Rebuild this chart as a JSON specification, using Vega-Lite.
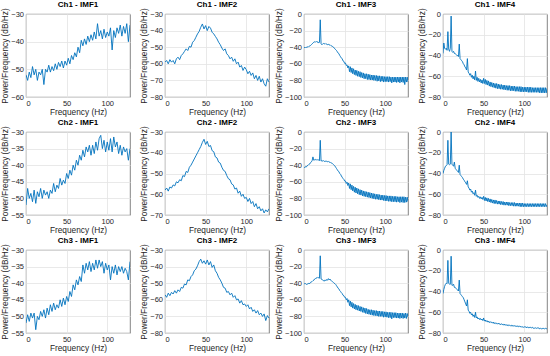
{
"$schema":"https://vega.github.io/schema/vega-lite/v6.json",
"padding":{"left":0,"top":0,"right":0,"bottom":0},
"columns":4,
"spacing":{"row":35,"column":35},
"bounds":"flush",
"datasets":{
"a11":[{"f":0,"p":-52},{"f":2,"p":-54},{"f":4,"p":-51},{"f":6,"p":-53},{"f":8,"p":-49},{"f":10,"p":-52},{"f":12,"p":-50},{"f":14,"p":-54},{"f":16,"p":-51},{"f":18,"p":-52},{"f":20,"p":-50},{"f":22,"p":-55.5},{"f":24,"p":-50},{"f":26,"p":-51},{"f":28,"p":-48.5},{"f":30,"p":-51},{"f":32,"p":-49},{"f":34,"p":-50.5},{"f":36,"p":-48},{"f":38,"p":-50},{"f":40,"p":-47.5},{"f":42,"p":-49},{"f":44,"p":-47},{"f":46,"p":-49.5},{"f":48,"p":-47},{"f":50,"p":-48.5},{"f":52,"p":-46},{"f":54,"p":-48},{"f":56,"p":-45},{"f":58,"p":-46.5},{"f":60,"p":-44},{"f":62,"p":-45.5},{"f":64,"p":-42},{"f":66,"p":-44},{"f":68,"p":-39.5},{"f":70,"p":-41.5},{"f":72,"p":-39},{"f":74,"p":-41},{"f":76,"p":-38},{"f":78,"p":-40},{"f":80,"p":-37.5},{"f":82,"p":-39.5},{"f":84,"p":-36.5},{"f":86,"p":-39},{"f":88,"p":-33.5},{"f":90,"p":-38},{"f":92,"p":-36},{"f":94,"p":-39},{"f":96,"p":-35.5},{"f":98,"p":-38.5},{"f":100,"p":-36.5},{"f":102,"p":-38},{"f":104,"p":-35},{"f":106,"p":-43},{"f":108,"p":-36},{"f":110,"p":-38.5},{"f":112,"p":-35},{"f":114,"p":-37},{"f":116,"p":-34},{"f":118,"p":-38},{"f":120,"p":-34.5},{"f":122,"p":-37},{"f":124,"p":-33.5},{"f":126,"p":-40},{"f":128,"p":-34}],
"a12":[{"f":0,"p":-59},{"f":2,"p":-58},{"f":4,"p":-60},{"f":6,"p":-57.5},{"f":8,"p":-59},{"f":10,"p":-58},{"f":12,"p":-60},{"f":14,"p":-57},{"f":16,"p":-56},{"f":18,"p":-57.5},{"f":20,"p":-55},{"f":22,"p":-54},{"f":24,"p":-52.5},{"f":26,"p":-51},{"f":28,"p":-52},{"f":30,"p":-49.5},{"f":32,"p":-50},{"f":34,"p":-47},{"f":36,"p":-46},{"f":38,"p":-44},{"f":40,"p":-42},{"f":42,"p":-40.5},{"f":44,"p":-38},{"f":46,"p":-36},{"f":48,"p":-39},{"f":50,"p":-37},{"f":52,"p":-40},{"f":54,"p":-37.5},{"f":56,"p":-38.5},{"f":58,"p":-41},{"f":60,"p":-42},{"f":62,"p":-43.5},{"f":64,"p":-45},{"f":66,"p":-47},{"f":68,"p":-48.5},{"f":70,"p":-50.5},{"f":72,"p":-52},{"f":74,"p":-51},{"f":76,"p":-54},{"f":78,"p":-55},{"f":80,"p":-57},{"f":82,"p":-56},{"f":84,"p":-58.5},{"f":86,"p":-57},{"f":88,"p":-60},{"f":90,"p":-59},{"f":92,"p":-62},{"f":94,"p":-61},{"f":96,"p":-64},{"f":98,"p":-62},{"f":100,"p":-63.5},{"f":102,"p":-66},{"f":104,"p":-64.5},{"f":106,"p":-67},{"f":108,"p":-65.5},{"f":110,"p":-69},{"f":112,"p":-67},{"f":114,"p":-70},{"f":116,"p":-67.5},{"f":118,"p":-71},{"f":120,"p":-69},{"f":122,"p":-72},{"f":124,"p":-73.5},{"f":126,"p":-69},{"f":128,"p":-71}],
"a13":[{"f":0,"p":-41},{"f":1,"p":-40},{"f":2,"p":-41},{"f":3,"p":-40},{"f":4,"p":-39.5},{"f":5,"p":-40},{"f":6,"p":-39},{"f":7,"p":-38.5},{"f":8,"p":-38},{"f":9,"p":-37},{"f":10,"p":-36},{"f":11,"p":-35},{"f":12,"p":-34},{"f":13,"p":-33.5},{"f":14,"p":-34},{"f":15,"p":-33},{"f":16,"p":-34},{"f":17,"p":-33.5},{"f":18,"p":-35},{"f":19,"p":-34},{"f":20,"p":-7},{"f":21,"p":-36},{"f":22,"p":-37},{"f":23,"p":-36},{"f":24,"p":-35.5},{"f":25,"p":-36},{"f":26,"p":-35.5},{"f":27,"p":-36.5},{"f":28,"p":-36},{"f":29,"p":-37},{"f":30,"p":-36.5},{"f":31,"p":-37.5},{"f":32,"p":-37},{"f":33,"p":-38},{"f":34,"p":-38.5},{"f":35,"p":-39},{"f":36,"p":-40},{"f":37,"p":-40.5},{"f":38,"p":-42},{"f":39,"p":-43},{"f":40,"p":-44},{"f":41,"p":-45.5},{"f":42,"p":-47},{"f":43,"p":-48},{"f":44,"p":-50},{"f":45,"p":-51.5},{"f":46,"p":-53},{"f":47,"p":-54},{"f":48,"p":-56.5},{"f":49,"p":-57},{"f":50,"p":-59.5},{"f":51,"p":-59},{"f":52,"p":-62},{"f":53,"p":-61.5},{"f":54,"p":-65},{"f":55,"p":-62.5},{"f":56,"p":-69.5},{"f":57,"p":-63.5},{"f":58,"p":-70.5},{"f":59,"p":-65},{"f":60,"p":-72},{"f":61,"p":-66},{"f":62,"p":-73},{"f":63,"p":-67.5},{"f":64,"p":-74},{"f":65,"p":-68},{"f":66,"p":-75},{"f":67,"p":-69},{"f":68,"p":-75.5},{"f":69,"p":-69.5},{"f":70,"p":-76.5},{"f":71,"p":-70.5},{"f":72,"p":-77},{"f":73,"p":-71},{"f":74,"p":-78},{"f":75,"p":-72},{"f":76,"p":-78},{"f":77,"p":-72},{"f":78,"p":-79},{"f":79,"p":-72.5},{"f":80,"p":-79},{"f":81,"p":-73},{"f":82,"p":-79.5},{"f":83,"p":-73.5},{"f":84,"p":-79.5},{"f":85,"p":-73.5},{"f":86,"p":-80},{"f":87,"p":-74},{"f":88,"p":-80},{"f":89,"p":-74},{"f":90,"p":-81},{"f":91,"p":-74.5},{"f":92,"p":-80.5},{"f":93,"p":-74.5},{"f":94,"p":-81.5},{"f":95,"p":-75},{"f":96,"p":-81},{"f":97,"p":-75},{"f":98,"p":-82},{"f":99,"p":-75.5},{"f":100,"p":-81.5},{"f":101,"p":-75.5},{"f":102,"p":-81.5},{"f":103,"p":-75.5},{"f":104,"p":-82},{"f":105,"p":-75.5},{"f":106,"p":-81.5},{"f":107,"p":-76},{"f":108,"p":-83},{"f":109,"p":-76},{"f":110,"p":-82},{"f":111,"p":-76},{"f":112,"p":-82},{"f":113,"p":-76},{"f":114,"p":-82.5},{"f":115,"p":-76},{"f":116,"p":-82},{"f":117,"p":-76},{"f":118,"p":-83},{"f":119,"p":-76},{"f":120,"p":-82},{"f":121,"p":-76},{"f":122,"p":-82.5},{"f":123,"p":-76},{"f":124,"p":-85},{"f":125,"p":-76},{"f":126,"p":-82},{"f":127,"p":-76},{"f":128,"p":-82}],
"a14":[{"f":0,"p":-38},{"f":1,"p":-28},{"f":2,"p":-33},{"f":3,"p":-34},{"f":4,"p":-33},{"f":5,"p":-35},{"f":6,"p":-17},{"f":7,"p":-34},{"f":8,"p":-36},{"f":9,"p":-33},{"f":10,"p":-2},{"f":11,"p":-36},{"f":12,"p":-37},{"f":13,"p":-36},{"f":14,"p":-38},{"f":15,"p":-38},{"f":16,"p":-39},{"f":17,"p":-40},{"f":18,"p":-40},{"f":19,"p":-41},{"f":20,"p":-29},{"f":21,"p":-43},{"f":22,"p":-44},{"f":23,"p":-45},{"f":24,"p":-46},{"f":25,"p":-48},{"f":26,"p":-49},{"f":27,"p":-51},{"f":28,"p":-52},{"f":29,"p":-54},{"f":30,"p":-43},{"f":31,"p":-56},{"f":32,"p":-57},{"f":33,"p":-59},{"f":34,"p":-57.5},{"f":35,"p":-61},{"f":36,"p":-59},{"f":37,"p":-62.5},{"f":38,"p":-60},{"f":39,"p":-63.5},{"f":40,"p":-55},{"f":41,"p":-64},{"f":42,"p":-61},{"f":43,"p":-65},{"f":44,"p":-62},{"f":45,"p":-65.5},{"f":46,"p":-63},{"f":47,"p":-66.5},{"f":48,"p":-63.5},{"f":49,"p":-67},{"f":50,"p":-62},{"f":51,"p":-67},{"f":52,"p":-63},{"f":53,"p":-68},{"f":54,"p":-64},{"f":55,"p":-68.5},{"f":56,"p":-64.5},{"f":57,"p":-69.5},{"f":58,"p":-65.5},{"f":59,"p":-70},{"f":60,"p":-66},{"f":61,"p":-70.5},{"f":62,"p":-66.5},{"f":63,"p":-71},{"f":64,"p":-67},{"f":65,"p":-71.5},{"f":66,"p":-67},{"f":67,"p":-72},{"f":68,"p":-67.5},{"f":69,"p":-72},{"f":70,"p":-68},{"f":71,"p":-72.5},{"f":72,"p":-68},{"f":73,"p":-72.5},{"f":74,"p":-68.5},{"f":75,"p":-73},{"f":76,"p":-68.5},{"f":77,"p":-73},{"f":78,"p":-69},{"f":79,"p":-73.5},{"f":80,"p":-69},{"f":81,"p":-73.5},{"f":82,"p":-69},{"f":83,"p":-74},{"f":84,"p":-69.5},{"f":85,"p":-74},{"f":86,"p":-69.5},{"f":87,"p":-74},{"f":88,"p":-69.5},{"f":89,"p":-74.5},{"f":90,"p":-70},{"f":91,"p":-74.5},{"f":92,"p":-70},{"f":93,"p":-74.5},{"f":94,"p":-70},{"f":95,"p":-75},{"f":96,"p":-70},{"f":97,"p":-75},{"f":98,"p":-70.5},{"f":99,"p":-75},{"f":100,"p":-70.5},{"f":101,"p":-75},{"f":102,"p":-70.5},{"f":103,"p":-75},{"f":104,"p":-70.5},{"f":105,"p":-75.5},{"f":106,"p":-70.5},{"f":107,"p":-75.5},{"f":108,"p":-70.5},{"f":109,"p":-75.5},{"f":110,"p":-71},{"f":111,"p":-75.5},{"f":112,"p":-71},{"f":113,"p":-75.5},{"f":114,"p":-71},{"f":115,"p":-75.5},{"f":116,"p":-71},{"f":117,"p":-75.5},{"f":118,"p":-71},{"f":119,"p":-76},{"f":120,"p":-71},{"f":121,"p":-76},{"f":122,"p":-71},{"f":123,"p":-76},{"f":124,"p":-71},{"f":125,"p":-76},{"f":126,"p":-71},{"f":127,"p":-76},{"f":128,"p":-71.5}],
"a21":[{"f":0,"p":-52},{"f":2,"p":-47},{"f":4,"p":-50},{"f":6,"p":-48.5},{"f":8,"p":-51},{"f":10,"p":-47.5},{"f":12,"p":-51.5},{"f":14,"p":-48},{"f":16,"p":-49.5},{"f":18,"p":-47},{"f":20,"p":-50},{"f":22,"p":-47.5},{"f":24,"p":-49},{"f":26,"p":-48},{"f":28,"p":-50},{"f":30,"p":-47.5},{"f":32,"p":-48.5},{"f":34,"p":-45.5},{"f":36,"p":-48},{"f":38,"p":-46},{"f":40,"p":-47},{"f":42,"p":-44},{"f":44,"p":-46},{"f":46,"p":-44.5},{"f":48,"p":-45.5},{"f":50,"p":-42.5},{"f":52,"p":-44},{"f":54,"p":-41.5},{"f":56,"p":-43},{"f":58,"p":-40},{"f":60,"p":-41.5},{"f":62,"p":-38.5},{"f":64,"p":-40},{"f":66,"p":-37},{"f":68,"p":-38.5},{"f":70,"p":-35.5},{"f":72,"p":-37.5},{"f":74,"p":-34.5},{"f":76,"p":-36},{"f":78,"p":-34},{"f":80,"p":-37},{"f":82,"p":-34},{"f":84,"p":-36.5},{"f":86,"p":-33},{"f":88,"p":-35.5},{"f":90,"p":-32},{"f":92,"p":-31},{"f":94,"p":-35},{"f":96,"p":-32.5},{"f":98,"p":-36},{"f":100,"p":-33},{"f":102,"p":-35.5},{"f":104,"p":-32},{"f":106,"p":-36},{"f":108,"p":-31.5},{"f":110,"p":-34.5},{"f":112,"p":-33},{"f":114,"p":-36.5},{"f":116,"p":-34},{"f":118,"p":-37},{"f":120,"p":-34.5},{"f":122,"p":-36},{"f":124,"p":-35},{"f":126,"p":-38.5},{"f":128,"p":-35}],
"a22":[{"f":0,"p":-58},{"f":2,"p":-57},{"f":4,"p":-58.5},{"f":6,"p":-56.5},{"f":8,"p":-57},{"f":10,"p":-55.5},{"f":12,"p":-56},{"f":14,"p":-54},{"f":16,"p":-54.5},{"f":18,"p":-53},{"f":20,"p":-53.5},{"f":22,"p":-51},{"f":24,"p":-51.5},{"f":26,"p":-49},{"f":28,"p":-49.5},{"f":30,"p":-47},{"f":32,"p":-46},{"f":34,"p":-44.5},{"f":36,"p":-43},{"f":38,"p":-41.5},{"f":40,"p":-40},{"f":42,"p":-38.5},{"f":44,"p":-37},{"f":46,"p":-35},{"f":48,"p":-33.5},{"f":50,"p":-36},{"f":52,"p":-34.5},{"f":54,"p":-37},{"f":56,"p":-36.5},{"f":58,"p":-39},{"f":60,"p":-39.5},{"f":62,"p":-42},{"f":64,"p":-42.5},{"f":66,"p":-44.5},{"f":68,"p":-45},{"f":70,"p":-47},{"f":72,"p":-48.5},{"f":74,"p":-49},{"f":76,"p":-51},{"f":78,"p":-52.5},{"f":80,"p":-53},{"f":82,"p":-55},{"f":84,"p":-55.5},{"f":86,"p":-57.5},{"f":88,"p":-57},{"f":90,"p":-59.5},{"f":92,"p":-58.5},{"f":94,"p":-61},{"f":96,"p":-60},{"f":98,"p":-62},{"f":100,"p":-61.5},{"f":102,"p":-63.5},{"f":104,"p":-62},{"f":106,"p":-64.5},{"f":108,"p":-63.5},{"f":110,"p":-66},{"f":112,"p":-64.5},{"f":114,"p":-67},{"f":116,"p":-66},{"f":118,"p":-68},{"f":120,"p":-67},{"f":122,"p":-69},{"f":124,"p":-67.5},{"f":126,"p":-68.5},{"f":128,"p":-67}],
"a23":[{"f":0,"p":-42},{"f":1,"p":-43},{"f":2,"p":-41.5},{"f":3,"p":-42},{"f":4,"p":-40.5},{"f":5,"p":-40},{"f":6,"p":-39},{"f":7,"p":-38.5},{"f":8,"p":-37},{"f":9,"p":-36},{"f":10,"p":-34.5},{"f":11,"p":-30},{"f":12,"p":-34},{"f":13,"p":-33.5},{"f":14,"p":-33},{"f":15,"p":-34},{"f":16,"p":-33},{"f":17,"p":-34},{"f":18,"p":-33.5},{"f":19,"p":-34.5},{"f":20,"p":-10},{"f":21,"p":-35},{"f":22,"p":-34.5},{"f":23,"p":-35},{"f":24,"p":-34.5},{"f":25,"p":-35.5},{"f":26,"p":-35},{"f":27,"p":-35.5},{"f":28,"p":-35},{"f":29,"p":-36},{"f":30,"p":-35.5},{"f":31,"p":-36.5},{"f":32,"p":-36},{"f":33,"p":-37},{"f":34,"p":-37.5},{"f":35,"p":-38},{"f":36,"p":-39},{"f":37,"p":-40},{"f":38,"p":-41},{"f":39,"p":-42.5},{"f":40,"p":-44},{"f":41,"p":-45.5},{"f":42,"p":-47},{"f":43,"p":-48},{"f":44,"p":-50},{"f":45,"p":-51},{"f":46,"p":-53},{"f":47,"p":-54.5},{"f":48,"p":-56},{"f":49,"p":-57},{"f":50,"p":-59},{"f":51,"p":-59},{"f":52,"p":-62},{"f":53,"p":-60.5},{"f":54,"p":-64.5},{"f":55,"p":-61.5},{"f":56,"p":-68},{"f":57,"p":-62.5},{"f":58,"p":-69.5},{"f":59,"p":-64},{"f":60,"p":-71},{"f":61,"p":-65.5},{"f":62,"p":-72.5},{"f":63,"p":-66.5},{"f":64,"p":-73.5},{"f":65,"p":-67.5},{"f":66,"p":-74.5},{"f":67,"p":-68.5},{"f":68,"p":-75.5},{"f":69,"p":-69.5},{"f":70,"p":-76},{"f":71,"p":-70},{"f":72,"p":-77},{"f":73,"p":-71},{"f":74,"p":-77.5},{"f":75,"p":-71.5},{"f":76,"p":-78},{"f":77,"p":-72},{"f":78,"p":-78.5},{"f":79,"p":-72.5},{"f":80,"p":-79},{"f":81,"p":-73},{"f":82,"p":-79.5},{"f":83,"p":-73.5},{"f":84,"p":-80},{"f":85,"p":-74},{"f":86,"p":-80.5},{"f":87,"p":-74.5},{"f":88,"p":-81},{"f":89,"p":-75},{"f":90,"p":-81},{"f":91,"p":-75},{"f":92,"p":-81.5},{"f":93,"p":-75.5},{"f":94,"p":-82},{"f":95,"p":-76},{"f":96,"p":-82},{"f":97,"p":-76},{"f":98,"p":-82.5},{"f":99,"p":-76.5},{"f":100,"p":-83},{"f":101,"p":-76.5},{"f":102,"p":-83},{"f":103,"p":-77},{"f":104,"p":-83.5},{"f":105,"p":-77},{"f":106,"p":-83.5},{"f":107,"p":-77},{"f":108,"p":-84},{"f":109,"p":-77.5},{"f":110,"p":-84},{"f":111,"p":-77.5},{"f":112,"p":-84},{"f":113,"p":-77.5},{"f":114,"p":-84.5},{"f":115,"p":-78},{"f":116,"p":-84},{"f":117,"p":-78},{"f":118,"p":-85},{"f":119,"p":-78},{"f":120,"p":-84.5},{"f":121,"p":-78},{"f":122,"p":-85},{"f":123,"p":-78},{"f":124,"p":-85},{"f":125,"p":-78.5},{"f":126,"p":-84.5},{"f":127,"p":-78.5},{"f":128,"p":-84}],
"a24":[{"f":0,"p":-40},{"f":1,"p":-37},{"f":2,"p":-35},{"f":3,"p":-33},{"f":4,"p":-32.5},{"f":5,"p":-31.5},{"f":6,"p":-8},{"f":7,"p":-31},{"f":8,"p":-31.5},{"f":9,"p":-31},{"f":10,"p":0},{"f":11,"p":-31},{"f":12,"p":-32},{"f":13,"p":-33},{"f":14,"p":-29},{"f":15,"p":-35},{"f":16,"p":-36},{"f":17,"p":-37},{"f":18,"p":-38},{"f":19,"p":-39},{"f":20,"p":-32},{"f":21,"p":-41},{"f":22,"p":-42},{"f":23,"p":-43},{"f":24,"p":-44},{"f":25,"p":-45.5},{"f":26,"p":-46.5},{"f":27,"p":-48},{"f":28,"p":-49},{"f":29,"p":-50.5},{"f":30,"p":-47},{"f":31,"p":-53},{"f":32,"p":-54},{"f":33,"p":-56},{"f":34,"p":-55},{"f":35,"p":-58},{"f":36,"p":-57},{"f":37,"p":-59.5},{"f":38,"p":-58.5},{"f":39,"p":-61},{"f":40,"p":-56},{"f":41,"p":-62},{"f":42,"p":-61},{"f":43,"p":-63},{"f":44,"p":-62},{"f":45,"p":-64},{"f":46,"p":-62.5},{"f":47,"p":-64.5},{"f":48,"p":-63},{"f":49,"p":-65},{"f":50,"p":-62},{"f":51,"p":-66},{"f":52,"p":-63},{"f":53,"p":-66.5},{"f":54,"p":-63.5},{"f":55,"p":-67},{"f":56,"p":-64},{"f":57,"p":-67.5},{"f":58,"p":-64.5},{"f":59,"p":-68},{"f":60,"p":-65},{"f":61,"p":-68.5},{"f":62,"p":-65.5},{"f":63,"p":-69},{"f":64,"p":-65.5},{"f":65,"p":-69},{"f":66,"p":-66},{"f":67,"p":-69.5},{"f":68,"p":-66.5},{"f":69,"p":-69.5},{"f":70,"p":-66.5},{"f":71,"p":-70},{"f":72,"p":-67},{"f":73,"p":-70},{"f":74,"p":-67},{"f":75,"p":-70.5},{"f":76,"p":-67.5},{"f":77,"p":-70.5},{"f":78,"p":-67.5},{"f":79,"p":-70.5},{"f":80,"p":-67.5},{"f":81,"p":-71},{"f":82,"p":-68},{"f":83,"p":-71},{"f":84,"p":-68},{"f":85,"p":-71},{"f":86,"p":-68},{"f":87,"p":-71.5},{"f":88,"p":-68},{"f":89,"p":-71.5},{"f":90,"p":-68.5},{"f":91,"p":-71.5},{"f":92,"p":-68.5},{"f":93,"p":-71.5},{"f":94,"p":-68.5},{"f":95,"p":-72},{"f":96,"p":-68.5},{"f":97,"p":-72},{"f":98,"p":-68.5},{"f":99,"p":-72},{"f":100,"p":-69},{"f":101,"p":-72},{"f":102,"p":-69},{"f":103,"p":-72},{"f":104,"p":-69},{"f":105,"p":-72},{"f":106,"p":-69},{"f":107,"p":-72},{"f":108,"p":-69},{"f":109,"p":-72},{"f":110,"p":-69},{"f":111,"p":-72},{"f":112,"p":-69},{"f":113,"p":-72},{"f":114,"p":-69},{"f":115,"p":-72},{"f":116,"p":-69},{"f":117,"p":-72},{"f":118,"p":-69},{"f":119,"p":-72},{"f":120,"p":-69},{"f":121,"p":-72},{"f":122,"p":-69},{"f":123,"p":-72},{"f":124,"p":-69},{"f":125,"p":-72},{"f":126,"p":-69},{"f":127,"p":-72},{"f":128,"p":-70}],
"a31":[{"f":0,"p":-52},{"f":2,"p":-49.5},{"f":4,"p":-51.5},{"f":6,"p":-49},{"f":8,"p":-50.5},{"f":10,"p":-49},{"f":12,"p":-54},{"f":14,"p":-50},{"f":16,"p":-51},{"f":18,"p":-48.5},{"f":20,"p":-50},{"f":22,"p":-48},{"f":24,"p":-50.5},{"f":26,"p":-47.5},{"f":28,"p":-49.5},{"f":30,"p":-46.5},{"f":32,"p":-48.5},{"f":34,"p":-46},{"f":36,"p":-48},{"f":38,"p":-46.5},{"f":40,"p":-47.5},{"f":42,"p":-45},{"f":44,"p":-47},{"f":46,"p":-44.5},{"f":48,"p":-46.5},{"f":50,"p":-44},{"f":52,"p":-45.5},{"f":54,"p":-42.5},{"f":56,"p":-44},{"f":58,"p":-40.5},{"f":60,"p":-42},{"f":62,"p":-39},{"f":64,"p":-40.5},{"f":66,"p":-38},{"f":68,"p":-39.5},{"f":70,"p":-34.5},{"f":72,"p":-37},{"f":74,"p":-34},{"f":76,"p":-36},{"f":78,"p":-33.5},{"f":80,"p":-36.5},{"f":82,"p":-34},{"f":84,"p":-36},{"f":86,"p":-33},{"f":88,"p":-35.5},{"f":90,"p":-33},{"f":92,"p":-35},{"f":94,"p":-33.5},{"f":96,"p":-37},{"f":98,"p":-34},{"f":100,"p":-36},{"f":102,"p":-34.5},{"f":104,"p":-39},{"f":106,"p":-35},{"f":108,"p":-37},{"f":110,"p":-34.5},{"f":112,"p":-37.5},{"f":114,"p":-35},{"f":116,"p":-36.5},{"f":118,"p":-35},{"f":120,"p":-37},{"f":122,"p":-35.5},{"f":124,"p":-36.5},{"f":126,"p":-39},{"f":128,"p":-33.5}],
"a32":[{"f":0,"p":-57},{"f":2,"p":-58.5},{"f":4,"p":-56},{"f":6,"p":-57.5},{"f":8,"p":-55.5},{"f":10,"p":-56.5},{"f":12,"p":-54.5},{"f":14,"p":-56},{"f":16,"p":-54},{"f":18,"p":-55},{"f":20,"p":-52.5},{"f":22,"p":-53},{"f":24,"p":-50.5},{"f":26,"p":-51},{"f":28,"p":-48},{"f":30,"p":-48.5},{"f":32,"p":-46},{"f":34,"p":-45},{"f":36,"p":-42.5},{"f":38,"p":-41.5},{"f":40,"p":-39.5},{"f":42,"p":-37},{"f":44,"p":-35.5},{"f":46,"p":-38},{"f":48,"p":-36.5},{"f":50,"p":-38.5},{"f":52,"p":-36},{"f":54,"p":-39},{"f":56,"p":-37},{"f":58,"p":-40.5},{"f":60,"p":-39},{"f":62,"p":-42.5},{"f":64,"p":-44},{"f":66,"p":-46.5},{"f":68,"p":-48},{"f":70,"p":-50},{"f":72,"p":-52.5},{"f":74,"p":-53},{"f":76,"p":-55.5},{"f":78,"p":-55},{"f":80,"p":-57},{"f":82,"p":-56},{"f":84,"p":-58.5},{"f":86,"p":-57.5},{"f":88,"p":-60},{"f":90,"p":-59.5},{"f":92,"p":-62},{"f":94,"p":-60.5},{"f":96,"p":-63},{"f":98,"p":-62.5},{"f":100,"p":-64},{"f":102,"p":-63},{"f":104,"p":-65.5},{"f":106,"p":-64.5},{"f":108,"p":-67},{"f":110,"p":-66},{"f":112,"p":-68},{"f":114,"p":-66.5},{"f":116,"p":-69},{"f":118,"p":-68},{"f":120,"p":-70},{"f":122,"p":-68.5},{"f":124,"p":-72.5},{"f":126,"p":-69.5},{"f":128,"p":-71}],
"a33":[{"f":0,"p":-40},{"f":1,"p":-41},{"f":2,"p":-40.5},{"f":3,"p":-41.5},{"f":4,"p":-41},{"f":5,"p":-41},{"f":6,"p":-40},{"f":7,"p":-40.5},{"f":8,"p":-39},{"f":9,"p":-38.5},{"f":10,"p":-38},{"f":11,"p":-37},{"f":12,"p":-36.5},{"f":13,"p":-35},{"f":14,"p":-34.5},{"f":15,"p":-33.5},{"f":16,"p":-34},{"f":17,"p":-33},{"f":18,"p":-33.5},{"f":19,"p":-34},{"f":20,"p":-7},{"f":21,"p":-35},{"f":22,"p":-35.5},{"f":23,"p":-36},{"f":24,"p":-37},{"f":25,"p":-37.5},{"f":26,"p":-36},{"f":27,"p":-37},{"f":28,"p":-35.5},{"f":29,"p":-36.5},{"f":30,"p":-34.5},{"f":31,"p":-36},{"f":32,"p":-35},{"f":33,"p":-36.5},{"f":34,"p":-37.5},{"f":35,"p":-38},{"f":36,"p":-39},{"f":37,"p":-40},{"f":38,"p":-40.5},{"f":39,"p":-41.5},{"f":40,"p":-43},{"f":41,"p":-44.5},{"f":42,"p":-46},{"f":43,"p":-47},{"f":44,"p":-49},{"f":45,"p":-50},{"f":46,"p":-51.5},{"f":47,"p":-52.5},{"f":48,"p":-54.5},{"f":49,"p":-55},{"f":50,"p":-57},{"f":51,"p":-57},{"f":52,"p":-60},{"f":53,"p":-58.5},{"f":54,"p":-63},{"f":55,"p":-60},{"f":56,"p":-67},{"f":57,"p":-61.5},{"f":58,"p":-68.5},{"f":59,"p":-63},{"f":60,"p":-70},{"f":61,"p":-64.5},{"f":62,"p":-71},{"f":63,"p":-65.5},{"f":64,"p":-72},{"f":65,"p":-66.5},{"f":66,"p":-72.5},{"f":67,"p":-67},{"f":68,"p":-73.5},{"f":69,"p":-68},{"f":70,"p":-74},{"f":71,"p":-68.5},{"f":72,"p":-75},{"f":73,"p":-69.5},{"f":74,"p":-75.5},{"f":75,"p":-70},{"f":76,"p":-76.5},{"f":77,"p":-70.5},{"f":78,"p":-77},{"f":79,"p":-71.5},{"f":80,"p":-77.5},{"f":81,"p":-72},{"f":82,"p":-78},{"f":83,"p":-72},{"f":84,"p":-78.5},{"f":85,"p":-72.5},{"f":86,"p":-79},{"f":87,"p":-73},{"f":88,"p":-79},{"f":89,"p":-73},{"f":90,"p":-79.5},{"f":91,"p":-73.5},{"f":92,"p":-80},{"f":93,"p":-73.5},{"f":94,"p":-80},{"f":95,"p":-74},{"f":96,"p":-80},{"f":97,"p":-74},{"f":98,"p":-81},{"f":99,"p":-74.5},{"f":100,"p":-80.5},{"f":101,"p":-74.5},{"f":102,"p":-81},{"f":103,"p":-75},{"f":104,"p":-81.5},{"f":105,"p":-75},{"f":106,"p":-81.5},{"f":107,"p":-75},{"f":108,"p":-83},{"f":109,"p":-75.5},{"f":110,"p":-81.5},{"f":111,"p":-75.5},{"f":112,"p":-81.5},{"f":113,"p":-75.5},{"f":114,"p":-82},{"f":115,"p":-76},{"f":116,"p":-82},{"f":117,"p":-76},{"f":118,"p":-82.5},{"f":119,"p":-76},{"f":120,"p":-82},{"f":121,"p":-76},{"f":122,"p":-82.5},{"f":123,"p":-76.5},{"f":124,"p":-82},{"f":125,"p":-76},{"f":126,"p":-82.5},{"f":127,"p":-76.5},{"f":128,"p":-81}],
"a34":[{"f":0,"p":-42},{"f":1,"p":-38},{"f":2,"p":-35},{"f":3,"p":-33},{"f":4,"p":-32},{"f":5,"p":-32.5},{"f":6,"p":-10},{"f":7,"p":-32},{"f":8,"p":-33},{"f":9,"p":-33},{"f":10,"p":-6},{"f":11,"p":-34},{"f":12,"p":-34},{"f":13,"p":-33},{"f":14,"p":-36},{"f":15,"p":-36},{"f":16,"p":-37},{"f":17,"p":-38},{"f":18,"p":-38.5},{"f":19,"p":-39.5},{"f":20,"p":-29},{"f":21,"p":-42},{"f":22,"p":-43},{"f":23,"p":-44},{"f":24,"p":-45},{"f":25,"p":-46},{"f":26,"p":-48},{"f":27,"p":-50},{"f":28,"p":-52},{"f":29,"p":-54},{"f":30,"p":-48},{"f":31,"p":-58},{"f":32,"p":-59},{"f":33,"p":-61},{"f":34,"p":-60},{"f":35,"p":-62.5},{"f":36,"p":-61.5},{"f":37,"p":-64},{"f":38,"p":-62.5},{"f":39,"p":-65},{"f":40,"p":-60},{"f":41,"p":-65.5},{"f":42,"p":-64.5},{"f":43,"p":-66.5},{"f":44,"p":-65.5},{"f":45,"p":-67},{"f":46,"p":-66},{"f":47,"p":-67.5},{"f":48,"p":-66.5},{"f":49,"p":-68},{"f":50,"p":-65.5},{"f":51,"p":-68.5},{"f":52,"p":-67.5},{"f":53,"p":-69},{"f":54,"p":-68},{"f":55,"p":-69.5},{"f":56,"p":-68.5},{"f":57,"p":-70},{"f":58,"p":-69},{"f":59,"p":-70},{"f":60,"p":-69.5},{"f":61,"p":-70.5},{"f":62,"p":-69.5},{"f":63,"p":-71},{"f":64,"p":-70},{"f":65,"p":-71},{"f":66,"p":-70.5},{"f":67,"p":-71.5},{"f":68,"p":-70.5},{"f":69,"p":-71.5},{"f":70,"p":-71},{"f":71,"p":-72},{"f":72,"p":-71},{"f":73,"p":-72},{"f":74,"p":-71.5},{"f":75,"p":-72.5},{"f":76,"p":-71.5},{"f":77,"p":-72.5},{"f":78,"p":-72},{"f":79,"p":-73},{"f":80,"p":-72},{"f":81,"p":-73},{"f":82,"p":-72.5},{"f":83,"p":-73},{"f":84,"p":-72.5},{"f":85,"p":-73.5},{"f":86,"p":-72.5},{"f":87,"p":-73.5},{"f":88,"p":-73},{"f":89,"p":-73.5},{"f":90,"p":-73},{"f":91,"p":-74},{"f":92,"p":-73},{"f":93,"p":-74},{"f":94,"p":-73.5},{"f":95,"p":-74},{"f":96,"p":-73.5},{"f":97,"p":-74.5},{"f":98,"p":-74},{"f":99,"p":-74.5},{"f":100,"p":-74},{"f":101,"p":-74.5},{"f":102,"p":-74},{"f":103,"p":-75},{"f":104,"p":-74},{"f":105,"p":-75},{"f":106,"p":-74.5},{"f":107,"p":-75},{"f":108,"p":-74.5},{"f":109,"p":-75},{"f":110,"p":-74.5},{"f":111,"p":-75.5},{"f":112,"p":-75},{"f":113,"p":-75.5},{"f":114,"p":-75},{"f":115,"p":-75.5},{"f":116,"p":-75},{"f":117,"p":-75.5},{"f":118,"p":-75},{"f":119,"p":-76},{"f":120,"p":-75.5},{"f":121,"p":-76},{"f":122,"p":-75.5},{"f":123,"p":-76},{"f":124,"p":-75.5},{"f":125,"p":-76},{"f":126,"p":-75.5},{"f":127,"p":-76},{"f":128,"p":-75.5}]
},
"concat":[
{"title":"Ch1 - IMF1","width":104,"height":83,"data":{"name":"a11"},"mark":{"type":"line","color":"#0072BD","strokeWidth":0.9,"clip":true},"encoding":{"x":{"field":"f","type":"quantitative","title":"Frequency (Hz)","scale":{"domain":[0,128],"nice":false},"axis":{"values":[0,50,100]}},"y":{"field":"p","type":"quantitative","title":"Power/Frequency (dB/Hz)","scale":{"domain":[-60,-30],"nice":false},"axis":{"values":[-60,-50,-40,-30]}}}},
{"title":"Ch1 - IMF2","width":104,"height":83,"data":{"name":"a12"},"mark":{"type":"line","color":"#0072BD","strokeWidth":0.9,"clip":true},"encoding":{"x":{"field":"f","type":"quantitative","title":"Frequency (Hz)","scale":{"domain":[0,128],"nice":false},"axis":{"values":[0,50,100]}},"y":{"field":"p","type":"quantitative","title":"Power/Frequency (dB/Hz)","scale":{"domain":[-80,-30],"nice":false},"axis":{"values":[-80,-70,-60,-50,-40,-30]}}}},
{"title":"Ch1 - IMF3","width":104,"height":83,"data":{"name":"a13"},"mark":{"type":"line","color":"#0072BD","strokeWidth":0.9,"clip":true},"encoding":{"x":{"field":"f","type":"quantitative","title":"Frequency (Hz)","scale":{"domain":[0,128],"nice":false},"axis":{"values":[0,50,100]}},"y":{"field":"p","type":"quantitative","title":"Power/Frequency (dB/Hz)","scale":{"domain":[-100,0],"nice":false},"axis":{"values":[-100,-80,-60,-40,-20,0]}}}},
{"title":"Ch1 - IMF4","width":104,"height":83,"data":{"name":"a14"},"mark":{"type":"line","color":"#0072BD","strokeWidth":0.9,"clip":true},"encoding":{"x":{"field":"f","type":"quantitative","title":"Frequency (Hz)","scale":{"domain":[0,128],"nice":false},"axis":{"values":[0,50,100]}},"y":{"field":"p","type":"quantitative","title":"Power/Frequency (dB/Hz)","scale":{"domain":[-80,0],"nice":false},"axis":{"values":[-80,-60,-40,-20,0]}}}},
{"title":"Ch2 - IMF1","width":104,"height":83,"data":{"name":"a21"},"mark":{"type":"line","color":"#0072BD","strokeWidth":0.9,"clip":true},"encoding":{"x":{"field":"f","type":"quantitative","title":"Frequency (Hz)","scale":{"domain":[0,128],"nice":false},"axis":{"values":[0,50,100]}},"y":{"field":"p","type":"quantitative","title":"Power/Frequency (dB/Hz)","scale":{"domain":[-55,-30],"nice":false},"axis":{"values":[-55,-50,-45,-40,-35,-30]}}}},
{"title":"Ch2 - IMF2","width":104,"height":83,"data":{"name":"a22"},"mark":{"type":"line","color":"#0072BD","strokeWidth":0.9,"clip":true},"encoding":{"x":{"field":"f","type":"quantitative","title":"Frequency (Hz)","scale":{"domain":[0,128],"nice":false},"axis":{"values":[0,50,100]}},"y":{"field":"p","type":"quantitative","title":"Power/Frequency (dB/Hz)","scale":{"domain":[-70,-30],"nice":false},"axis":{"values":[-70,-60,-50,-40,-30]}}}},
{"title":"Ch2 - IMF3","width":104,"height":83,"data":{"name":"a23"},"mark":{"type":"line","color":"#0072BD","strokeWidth":0.9,"clip":true},"encoding":{"x":{"field":"f","type":"quantitative","title":"Frequency (Hz)","scale":{"domain":[0,128],"nice":false},"axis":{"values":[0,50,100]}},"y":{"field":"p","type":"quantitative","title":"Power/Frequency (dB/Hz)","scale":{"domain":[-100,0],"nice":false},"axis":{"values":[-100,-80,-60,-40,-20,0]}}}},
{"title":"Ch2 - IMF4","width":104,"height":83,"data":{"name":"a24"},"mark":{"type":"line","color":"#0072BD","strokeWidth":0.9,"clip":true},"encoding":{"x":{"field":"f","type":"quantitative","title":"Frequency (Hz)","scale":{"domain":[0,128],"nice":false},"axis":{"values":[0,50,100]}},"y":{"field":"p","type":"quantitative","title":"Power/Frequency (dB/Hz)","scale":{"domain":[-80,0],"nice":false},"axis":{"values":[-80,-60,-40,-20,0]}}}},
{"title":"Ch3 - IMF1","width":104,"height":83,"data":{"name":"a31"},"mark":{"type":"line","color":"#0072BD","strokeWidth":0.9,"clip":true},"encoding":{"x":{"field":"f","type":"quantitative","title":"Frequency (Hz)","scale":{"domain":[0,128],"nice":false},"axis":{"values":[0,50,100]}},"y":{"field":"p","type":"quantitative","title":"Power/Frequency (dB/Hz)","scale":{"domain":[-55,-30],"nice":false},"axis":{"values":[-55,-50,-45,-40,-35,-30]}}}},
{"title":"Ch3 - IMF2","width":104,"height":83,"data":{"name":"a32"},"mark":{"type":"line","color":"#0072BD","strokeWidth":0.9,"clip":true},"encoding":{"x":{"field":"f","type":"quantitative","title":"Frequency (Hz)","scale":{"domain":[0,128],"nice":false},"axis":{"values":[0,50,100]}},"y":{"field":"p","type":"quantitative","title":"Power/Frequency (dB/Hz)","scale":{"domain":[-80,-30],"nice":false},"axis":{"values":[-80,-70,-60,-50,-40,-30]}}}},
{"title":"Ch3 - IMF3","width":104,"height":83,"data":{"name":"a33"},"mark":{"type":"line","color":"#0072BD","strokeWidth":0.9,"clip":true},"encoding":{"x":{"field":"f","type":"quantitative","title":"Frequency (Hz)","scale":{"domain":[0,128],"nice":false},"axis":{"values":[0,50,100]}},"y":{"field":"p","type":"quantitative","title":"Power/Frequency (dB/Hz)","scale":{"domain":[-100,0],"nice":false},"axis":{"values":[-100,-80,-60,-40,-20,0]}}}},
{"title":"Ch3 - IMF4","width":104,"height":83,"data":{"name":"a34"},"mark":{"type":"line","color":"#0072BD","strokeWidth":0.9,"clip":true},"encoding":{"x":{"field":"f","type":"quantitative","title":"Frequency (Hz)","scale":{"domain":[0,128],"nice":false},"axis":{"values":[0,50,100]}},"y":{"field":"p","type":"quantitative","title":"Power/Frequency (dB/Hz)","scale":{"domain":[-80,0],"nice":false},"axis":{"values":[-80,-60,-40,-20,0]}}}}
],
"config":{
"view":{"stroke":"#666666","strokeWidth":0.8},
"axis":{"grid":true,"gridColor":"#e3e3e3","gridWidth":0.8,"domain":false,"ticks":false,"labelFont":"Liberation Sans","titleFont":"Liberation Sans","labelFontSize":7.5,"titleFontSize":8.3,"titleFontWeight":"normal","labelColor":"#262626","titleColor":"#262626"},
"axisX":{"labelPadding":2,"titlePadding":1},
"axisY":{"labelPadding":2.5,"titlePadding":1},
"title":{"font":"Liberation Sans","fontSize":8,"fontWeight":"bold","color":"#000000","offset":-1}
}
}
